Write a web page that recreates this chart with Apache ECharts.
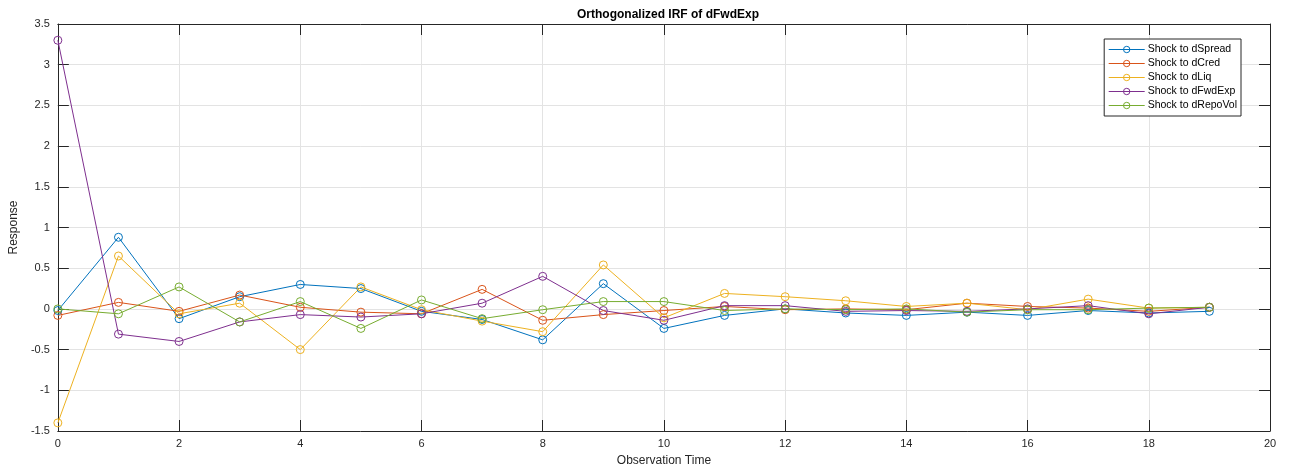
<!DOCTYPE html>
<html>
<head>
<meta charset="utf-8">
<script src="https://cdn.jsdelivr.net/npm/echarts@6/dist/echarts.min.js"></script>
<style>
html,body{margin:0;padding:0;background:#fff;}
#chart{width:1290px;height:475px;}
</style>
</head>
<body>
<div id="chart"></div>
<script>
const steps = [0,1,2,3,4,5,6,7,8,9,10,11,12,13,14,15,16,17,18,19];
const seriesNames = ['Shock to dSpread','Shock to dCred','Shock to dLiq','Shock to dFwdExp','Shock to dRepoVol'];
const dSpread  = [-0.02, 0.88,-0.12, 0.15, 0.30, 0.25,-0.03,-0.13,-0.38, 0.31,-0.24,-0.08, 0.00,-0.05,-0.08,-0.04,-0.08,-0.02,-0.05,-0.03];
const dCred    = [-0.08, 0.08,-0.03, 0.17, 0.02,-0.04,-0.06, 0.24,-0.14,-0.07,-0.02, 0.03,-0.01, 0.00,-0.01, 0.07, 0.03, 0.01,-0.03, 0.02];
const dLiq     = [-1.40, 0.65,-0.06, 0.07,-0.50, 0.27,-0.01,-0.15,-0.28, 0.54,-0.11, 0.19, 0.15, 0.10, 0.03, 0.07,-0.01, 0.12, 0.01, 0.02];
const dFwdExp  = [ 3.30,-0.31,-0.40,-0.16,-0.07,-0.10,-0.06, 0.07, 0.40,-0.02,-0.14, 0.04, 0.04,-0.03,-0.02,-0.03, 0.00, 0.04,-0.06, 0.02];
const dRepoVol = [ 0.00,-0.06, 0.27,-0.16, 0.09,-0.24, 0.11,-0.12,-0.01, 0.09, 0.09,-0.02, 0.00,-0.01, 0.00,-0.04,-0.01,-0.01, 0.01, 0.02];
const colors = ['#0072BD','#D95319','#EDB120','#7E2F8E','#77AC30'];
const allValues = [dSpread, dCred, dLiq, dFwdExp, dRepoVol];

const font = 'Liberation Sans, Arial, Helvetica, sans-serif';
const chart = echarts.init(document.getElementById('chart'));

const series = seriesNames.map((name, i) => ({
  name: name,
  type: 'line',
  data: steps.map((s, k) => [s, allValues[i][k]]),
  symbol: 'circle',
  symbolSize: 8,
  showSymbol: true,
  lineStyle: {width: 1, color: colors[i]},
  itemStyle: {color: 'rgba(255,255,255,0)', borderColor: colors[i], borderWidth: 1},
  emphasis: {disabled: true},
  animation: false
}));

const gridLeft = 56, gridRight = 20, gridTop = 24, gridBottom = 44;

chart.setOption({
  backgroundColor: '#fff',
  animation: false,
  title: {
    text: 'Orthogonalized IRF of dFwdExp',
    left: 663, top: 4, textAlign: 'center',
    textStyle: {fontFamily: font, fontSize: 12, fontWeight: 'bold', color: '#000'}
  },
  legend: {
    data: seriesNames,
    orient: 'vertical',
    right: 49, top: 39,
    itemWidth: 36, itemHeight: 8, itemGap: 3,
    padding: [5, 4, 5, 4],
    backgroundColor: '#fff',
    borderColor: '#262626', borderWidth: 1,
    lineStyle: {width: 1},
    itemStyle: {borderWidth: 1},
    textStyle: {fontFamily: font, fontSize: 10.5, color: '#000', padding: [0,0,0,-2]}
  },
  grid: {left: gridLeft, right: gridRight, top: gridTop, bottom: gridBottom, show: false},
  xAxis: [{
    type: 'value', min: 0, max: 20, interval: 2, position: 'bottom',
    name: 'Observation Time', nameLocation: 'middle', nameGap: 24,
    nameTextStyle: {fontFamily: font, fontSize: 12, color: '#262626'},
    axisLine: {show: true, onZero: false, lineStyle: {color: '#262626', width: 1}},
    axisTick: {show: true, inside: true, length: 11, lineStyle: {color: '#262626'}},
    axisLabel: {fontFamily: font, fontSize: 11, color: '#262626', margin: 7},
    splitLine: {show: true, lineStyle: {color: '#e3e3e3', width: 1}}
  },{
    type: 'value', min: 0, max: 20, interval: 2, position: 'top',
    axisLine: {show: true, onZero: false, lineStyle: {color: '#262626', width: 1}},
    axisTick: {show: true, inside: true, length: 11, lineStyle: {color: '#262626'}},
    axisLabel: {show: false}, splitLine: {show: false}
  }],
  yAxis: [{
    type: 'value', min: -1.5, max: 3.5, interval: 0.5, position: 'left',
    name: 'Response', nameLocation: 'middle', nameGap: 32, nameRotate: 90,
    nameTextStyle: {fontFamily: font, fontSize: 12, color: '#262626'},
    axisLine: {show: true, onZero: false, lineStyle: {color: '#262626', width: 1}},
    axisTick: {show: true, inside: true, length: 11, lineStyle: {color: '#262626'}},
    axisLabel: {fontFamily: font, fontSize: 11, color: '#262626', margin: 8},
    splitLine: {show: true, lineStyle: {color: '#e3e3e3', width: 1}}
  },{
    type: 'value', min: -1.5, max: 3.5, interval: 0.5, position: 'right',
    axisLine: {show: true, onZero: false, lineStyle: {color: '#262626', width: 1}},
    axisTick: {show: true, inside: true, length: 11, lineStyle: {color: '#262626'}},
    axisLabel: {show: false}, splitLine: {show: false}
  }],
  series: series
});
</script>
</body>
</html>
